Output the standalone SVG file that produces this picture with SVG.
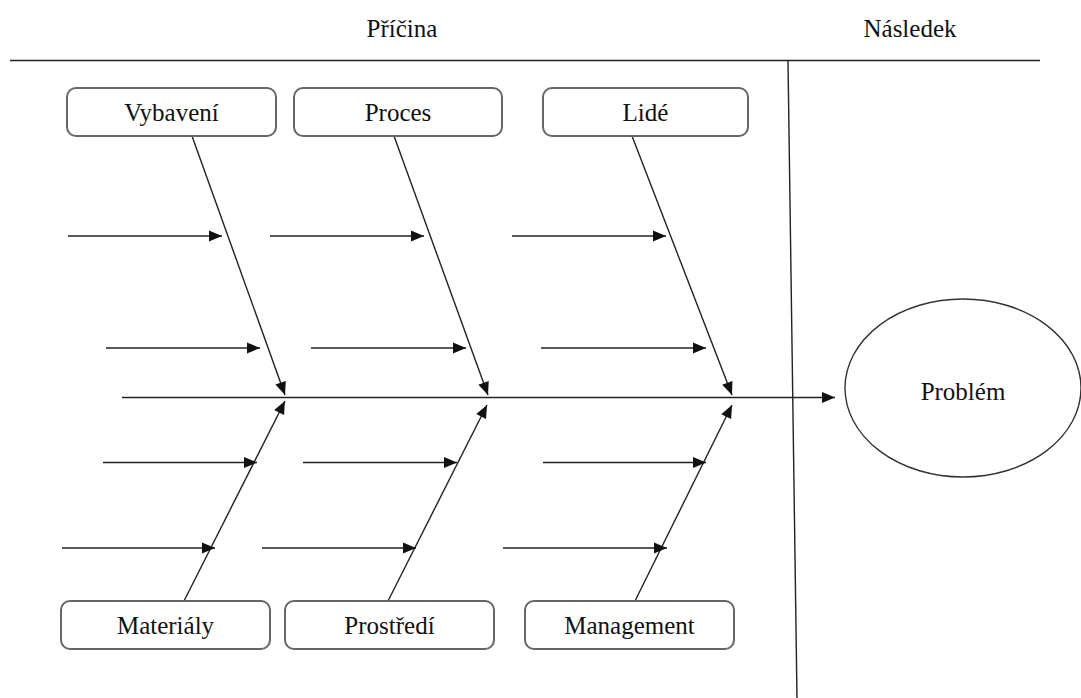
<svg xmlns="http://www.w3.org/2000/svg" width="1081" height="698" viewBox="0 0 1081 698">
<style>
text{font-family:"Liberation Serif","Times New Roman",serif;font-size:25px;fill:#111;text-anchor:middle}
.box{fill:#fff;stroke:#666;stroke-width:2}
.ln{stroke:#222;stroke-width:1.4;fill:none}
.ar{stroke:#222;stroke-width:1.4;fill:none;marker-end:url(#ah)}
</style>
<defs>
<marker id="ah" markerUnits="userSpaceOnUse" markerWidth="14" markerHeight="12" refX="13" refY="5.5" orient="auto" overflow="visible">
<path d="M0,0 L13,5.5 L0,11 z" fill="#111"/>
</marker>
</defs>
<rect width="1081" height="698" fill="#fff"/>
<g id="header">
<text x="402" y="37">Příčina</text>
<text x="910" y="37">Následek</text>
<line class="ln" x1="10" y1="60.5" x2="1040" y2="60.5"/>
<line class="ln" x1="788" y1="61" x2="797" y2="698"/>
</g>
<g id="connectors">
<line class="ar" x1="122" y1="397.5" x2="835" y2="397.5"/>
<line class="ar" x1="192" y1="136" x2="285" y2="395"/>
<line class="ar" x1="394" y1="136" x2="488" y2="395"/>
<line class="ar" x1="632" y1="136" x2="732" y2="395"/>
<line class="ar" x1="184" y1="601" x2="285" y2="401"/>
<line class="ar" x1="388" y1="601" x2="487" y2="405"/>
<line class="ar" x1="635" y1="601" x2="732" y2="405"/>
<line class="ar" x1="68" y1="236" x2="222" y2="236"/>
<line class="ar" x1="270" y1="236" x2="424" y2="236"/>
<line class="ar" x1="512" y1="236" x2="666" y2="236"/>
<line class="ar" x1="106" y1="348" x2="260" y2="348"/>
<line class="ar" x1="311" y1="348" x2="466" y2="348"/>
<line class="ar" x1="541" y1="348" x2="706" y2="348"/>
<line class="ar" x1="103" y1="462.5" x2="257" y2="462.5"/>
<line class="ar" x1="303" y1="462.5" x2="457" y2="462.5"/>
<line class="ar" x1="543" y1="462.5" x2="706" y2="462.5"/>
<line class="ar" x1="62" y1="548" x2="215" y2="548"/>
<line class="ar" x1="262" y1="548" x2="416" y2="548"/>
<line class="ar" x1="503" y1="548" x2="667" y2="548"/>
</g>
<g id="vybaveni"><rect class="box" x="67" y="88" width="209" height="48" rx="9"/><text x="171.5" y="121">Vybavení</text></g>
<g id="proces"><rect class="box" x="294" y="88" width="208" height="48" rx="9"/><text x="398" y="121">Proces</text></g>
<g id="lide"><rect class="box" x="543" y="88" width="205" height="48" rx="9"/><text x="645.5" y="121">Lidé</text></g>
<g id="materialy"><rect class="box" x="61" y="601" width="209" height="48" rx="9"/><text x="165.5" y="634">Materiály</text></g>
<g id="prostredi"><rect class="box" x="285" y="601" width="209" height="48" rx="9"/><text x="389.5" y="634">Prostředí</text></g>
<g id="management"><rect class="box" x="525" y="601" width="209" height="48" rx="9"/><text x="629.5" y="634">Management</text></g>
<g id="problem"><ellipse cx="963" cy="388" rx="118" ry="89" fill="#fff" stroke="#333" stroke-width="1.4"/><text x="963" y="400">Problém</text></g>
</svg>
